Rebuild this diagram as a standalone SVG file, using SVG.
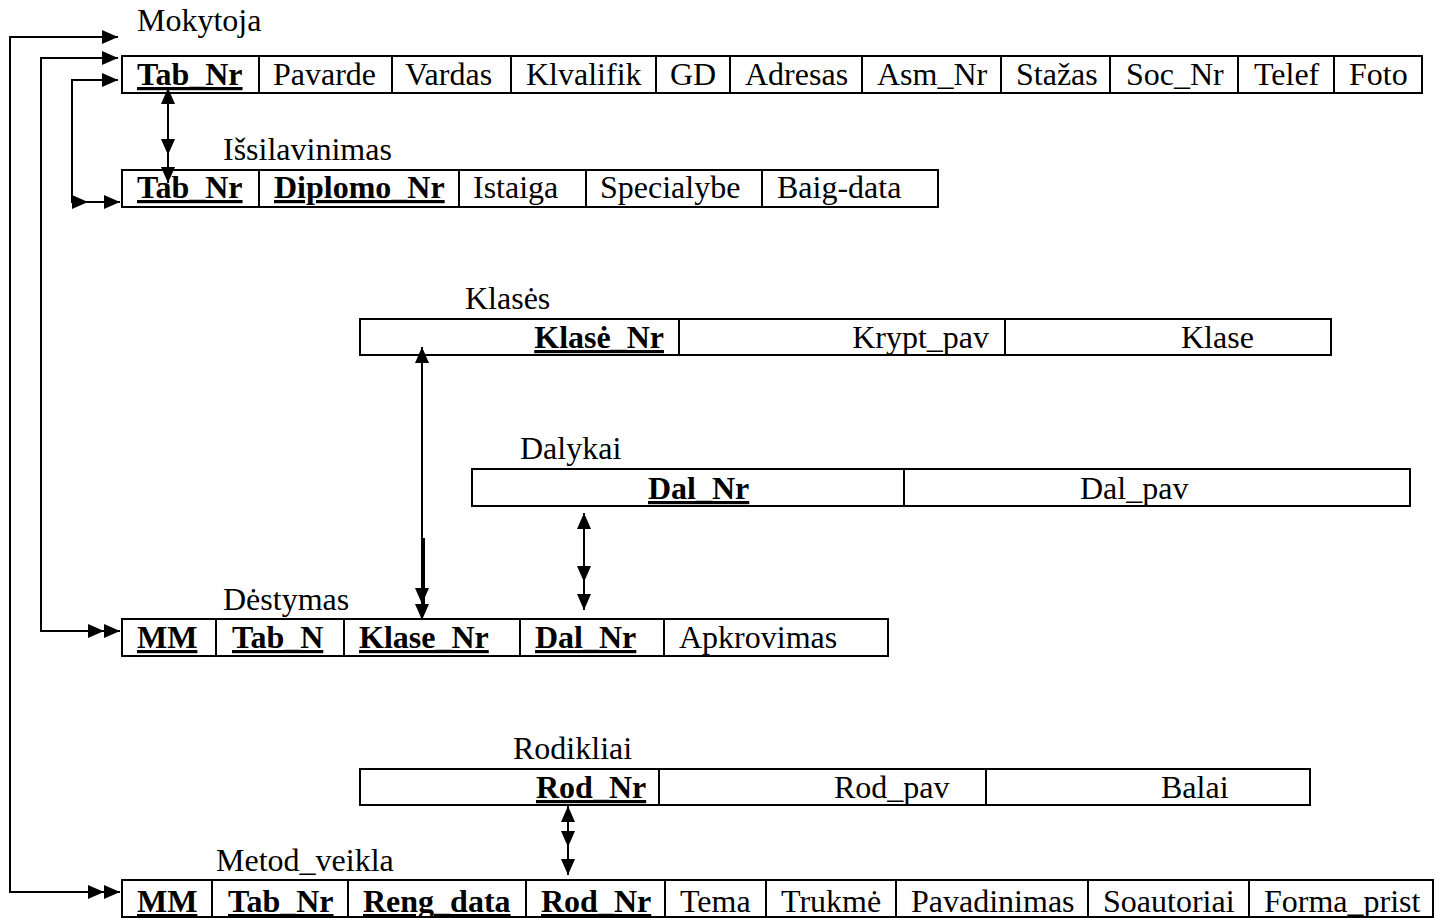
<svg xmlns="http://www.w3.org/2000/svg" width="1444" height="918" viewBox="0 0 1444 918">
<style>
text{font-family:"Liberation Serif","Times New Roman",serif;font-size:32px;fill:#000}
.k{font-weight:bold;text-decoration:underline;text-decoration-thickness:3px}
.box{fill:#fff;stroke:#000;stroke-width:2}
.div{stroke:#000;stroke-width:2}
.c{fill:none;stroke:#000;stroke-width:2}
</style>
<defs>
<marker id="a1" markerUnits="userSpaceOnUse" markerWidth="16" markerHeight="14" refX="16" refY="7" orient="auto-start-reverse"><path d="M0,0 L16,7 L0,14 z" fill="#000"/></marker>
<marker id="a2" markerUnits="userSpaceOnUse" markerWidth="32" markerHeight="14" refX="32" refY="7" orient="auto"><path d="M0,0 L16,7 L0,14 z M16,0 L32,7 L16,14 z" fill="#000"/></marker>
<marker id="a2w" markerUnits="userSpaceOnUse" markerWidth="48" markerHeight="14" refX="48" refY="7" orient="auto"><path d="M0,0 L16,7 L0,14 z M32,0 L48,7 L32,14 z" fill="#000"/></marker>
<marker id="a2m" markerUnits="userSpaceOnUse" markerWidth="44" markerHeight="14" refX="44" refY="7" orient="auto"><path d="M0,0 L16,7 L0,14 z M28,0 L44,7 L28,14 z" fill="#000"/></marker>
</defs>

<g id="mokytoja">
<text x="137" y="31">Mokytoja</text>
<rect class="box" x="122" y="56" width="1300" height="37"/>
<path class="div" d="M259,56V93M392,56V93M511,56V93M656,56V93M730,56V93M862,56V93M1001,56V93M1110,56V93M1238,56V93M1334,56V93"/>
<text class="k" x="137" y="85">Tab_Nr</text>
<text x="273" y="85">Pavarde</text>
<text x="405" y="85">Vardas</text>
<text x="526" y="85">Klvalifik</text>
<text x="670" y="85">GD</text>
<text x="745" y="85">Adresas</text>
<text x="877" y="85">Asm_Nr</text>
<text x="1016" y="85">Stažas</text>
<text x="1126" y="85">Soc_Nr</text>
<text x="1254" y="85">Telef</text>
<text x="1349" y="85">Foto</text>
</g>

<g id="issilavinimas">
<text x="223" y="160">Išsilavinimas</text>
<rect class="box" x="122" y="170" width="816" height="37"/>
<path class="div" d="M259,170V207M459,170V207M586,170V207M762,170V207"/>
<text class="k" x="137" y="198">Tab_Nr</text>
<text class="k" x="274" y="198">Diplomo_Nr</text>
<text x="473" y="198">Istaiga</text>
<text x="600" y="198">Specialybe</text>
<text x="777" y="198">Baig-data</text>
</g>

<g id="klases">
<text x="465" y="309">Klasės</text>
<rect class="box" x="360" y="319" width="971" height="36"/>
<path class="div" d="M679,319V355M1005,319V355"/>
<text class="k" x="664" y="348" text-anchor="end">Klasė_Nr</text>
<text x="989" y="348" text-anchor="end">Krypt_pav</text>
<text x="1181" y="348">Klase</text>
</g>

<g id="dalykai">
<text x="520" y="459">Dalykai</text>
<rect class="box" x="472" y="469" width="938" height="37"/>
<path class="div" d="M904,469V506"/>
<text class="k" x="648" y="499">Dal_Nr</text>
<text x="1080" y="499">Dal_pav</text>
</g>

<g id="destymas">
<text x="223" y="610">Dėstymas</text>
<rect class="box" x="122" y="619" width="766" height="37"/>
<path class="div" d="M216,619V656M344,619V656M520,619V656M664,619V656"/>
<text class="k" x="137" y="648">MM</text>
<text class="k" x="232" y="648">Tab_N</text>
<text class="k" x="359" y="648">Klase_Nr</text>
<text class="k" x="535" y="648">Dal_Nr</text>
<text x="679" y="648">Apkrovimas</text>
</g>

<g id="rodikliai">
<text x="513" y="759">Rodikliai</text>
<rect class="box" x="360" y="769" width="950" height="36"/>
<path class="div" d="M659,769V805M986,769V805"/>
<text class="k" x="536" y="798">Rod_Nr</text>
<text x="834" y="798">Rod_pav</text>
<text x="1161" y="798">Balai</text>
</g>

<g id="metod_veikla">
<text x="216" y="871">Metod_veikla</text>
<rect class="box" x="122" y="880" width="1311" height="37"/>
<path class="div" d="M212,880V917M348,880V917M526,880V917M665,880V917M766,880V917M896,880V917M1088,880V917M1249,880V917"/>
<text class="k" x="137" y="912">MM</text>
<text class="k" x="228" y="912">Tab_Nr</text>
<text class="k" x="363" y="912">Reng_data</text>
<text class="k" x="541" y="912">Rod_Nr</text>
<text x="680" y="912">Tema</text>
<text x="781" y="912">Trukmė</text>
<text x="911" y="912">Pavadinimas</text>
<text x="1103" y="912">Soautoriai</text>
<text x="1264" y="912">Forma_prist</text>
</g>

<g id="connectors">
<path class="c" d="M118,37 H10 V892 H120" marker-start="url(#a1)" marker-end="url(#a2)"/>
<path class="c" d="M118,58 H41 V631 H120" marker-start="url(#a1)" marker-end="url(#a2)"/>
<path class="c" d="M118,80 H72 V202 H120" marker-start="url(#a1)" marker-end="url(#a2w)"/>
<path class="c" d="M168,88 V183" marker-start="url(#a1)" marker-end="url(#a2m)"/>
<path class="c" d="M422,347 V620" marker-start="url(#a1)" marker-end="url(#a2)"/>
<path class="c" d="M424,538 V604"/>
<path class="c" d="M584,513 V610" marker-start="url(#a1)" marker-end="url(#a2m)"/>
<path class="c" d="M568,806 V875" marker-start="url(#a1)" marker-end="url(#a2m)"/>
</g>
</svg>
